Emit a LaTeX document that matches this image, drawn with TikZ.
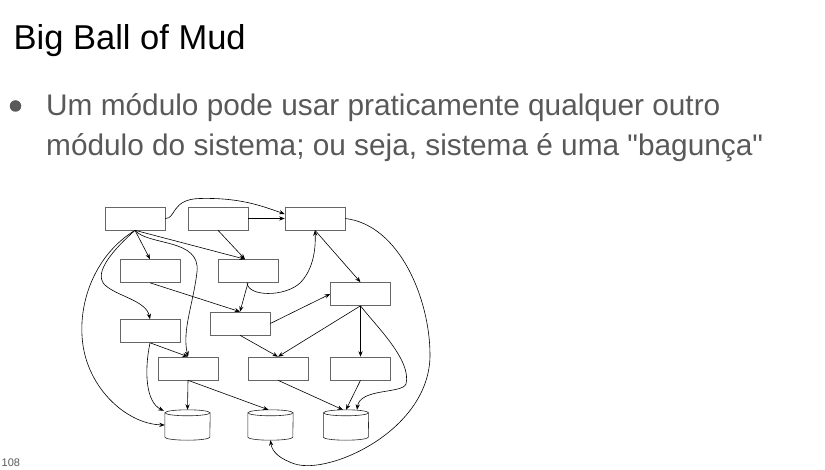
\documentclass[tikz,border=0pt]{standalone}
\usepackage{fontspec}
\setmainfont{Liberation Sans}
\newfontfamily\bodyfont{Liberation Sans}
\usetikzlibrary{arrows.meta,calc}
\definecolor{txtgray}{HTML}{595959}
\begin{document}
\begin{tikzpicture}[x=1pt,y=-1pt,
  mod/.style={draw=black!60, line width=0.6pt, minimum width=60pt, minimum height=23pt, inner sep=0pt},
  db/.style={minimum width=45pt, minimum height=30pt, inner sep=0pt},
  dep/.style={line width=0.6pt, -{Stealth[length=5.5pt,width=4.2pt]}},
  cyl/.style={draw=black!85, line width=0.6pt},
  txt/.style={anchor=base west, inner sep=0pt}]
\useasboundingbox (0,0) rectangle (825,470);
% texts
\node[txt, font=\fontsize{34.5}{40}\selectfont] (title) at (13.5,49.5) {Big Ball of Mud};
\node[circle, fill=txtgray, minimum size=11.5pt, inner sep=0pt] (bullet) at (15.5,106) {};
\node[txt, font=\bodyfont\fontsize{29.8}{36}\selectfont, text=txtgray] (line1) at (46,116) {Um módulo pode usar praticamente qualquer outro};
\node[txt, font=\bodyfont\fontsize{29.8}{36}\selectfont, text=txtgray] (line2) at (46,156) {módulo do sistema; ou seja, sistema é uma "bagunça"};
\node[txt, font=\fontsize{11}{13}\selectfont, text=txtgray] (pg) at (1.5,466.5) {108};
% modules
\node[mod] (A) at (135,218.5) {};
\node[mod] (B) at (218,218.5) {};
\node[mod] (C) at (315,218.5) {};
\node[mod] (D) at (150,271) {};
\node[mod] (E) at (248,271) {};
\node[mod] (F) at (360.5,294) {};
\node[mod] (G) at (150,331) {};
\node[mod] (H) at (240,323.5) {};
\node[mod] (I) at (188,368.5) {};
\node[mod] (J) at (278,368.5) {};
\node[mod] (K) at (360.5,368.5) {};
% databases
\node[db] (L) at (187.5,425) {};
\node[db] (M) at (270.5,425) {};
\node[db] (N) at (346,425) {};
\foreach \n in {L,M,N}{
  \draw[cyl] ([yshift=-3pt]\n.north) ellipse[x radius=22.5pt, y radius=3pt];
  \draw[cyl] ([yshift=-3pt]\n.north west) -- ([yshift=3pt]\n.south west)
     arc[start angle=180, end angle=360, x radius=22.5pt, y radius=3pt]
     -- ([yshift=-3pt]\n.north east);
}
% dependencies
\draw[dep] (A.east) .. controls (176,219) and (171,199) .. (200,198.5) .. controls (240,197.5) and (262,206) .. ([yshift=4.5pt]C.west);
\draw[dep] (B.east) -- (C.west);
\draw[dep] (A.south) -- (D.north);
\draw[dep] (A.south) -- ([xshift=-3pt]E.north);
\draw[dep] (B.south) -- ([xshift=-3pt]E.north);
\draw[dep] (A.south) .. controls (113,250) and (94,272) .. (104,284) .. controls (115,296) and (146,300) .. (G.north);
\draw[dep] (A.south) .. controls (148,246) and (201,238) .. (197,272) .. controls (193,305) and (182,330) .. (I.north);
\draw[dep] (A.south) .. controls (95,255) and (80,300) .. (82,335) .. controls (84,385) and (125,424) .. (L.west);
\draw[dep] (D.south) -- (H.north);
\draw[dep] (E.south) -- (H.north);
\draw[dep] ([xshift=-1pt]E.south) .. controls (248,297) and (285,297) .. (300,283) .. controls (312,271) and (316,252) .. (C.south);
\draw[dep] (C.south) -- (F.north);
\draw[dep] (C.east) .. controls (400,225) and (430,300) .. (430,355) .. controls (430,430) and (330,475) .. (295,464) .. controls (280,459) and (272,452) .. (M.south);
\draw[dep] (H.east) -- (F.west);
\draw[dep] (F.south) -- (J.north);
\draw[dep] (H.south) -- (J.north);
\draw[dep] (F.south) -- (K.north);
\draw[dep] (F.south) .. controls (375,325) and (412,360) .. (406,384) .. controls (402,394) and (360,388) .. ([xshift=11pt]N.north);
\draw[dep] (K.south) -- (N.north);
\draw[dep] (J.south) -- ([xshift=-3pt]N.north);
\draw[dep] (I.south) -- (L.north);
\draw[dep] (I.south) -- ([xshift=-2pt]M.north);
\draw[dep] (G.south) .. controls (144,372) and (146,402) .. ([xshift=-1pt,yshift=-1pt]L.north west);
\draw[dep] (G.south) -- (I.north);
\end{tikzpicture}
\end{document}
